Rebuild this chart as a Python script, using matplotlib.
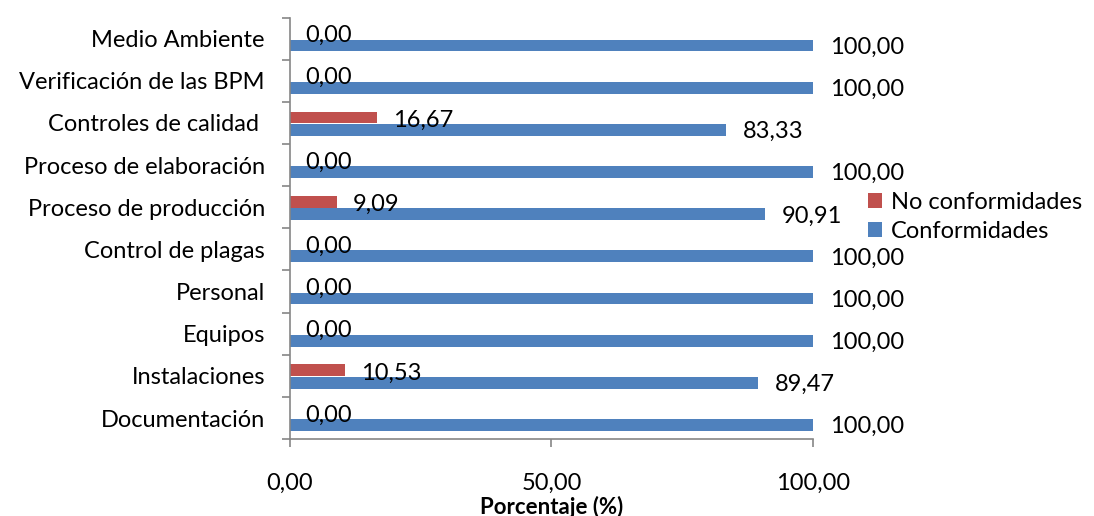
import numpy as np
import matplotlib.pyplot as plt
import matplotlib.ticker as mticker

plt.rcParams['font.family'] = ['Lato', 'DejaVu Sans']

# categories from bottom to top
categories = ['Documentación', 'Instalaciones', 'Equipos', 'Personal', 'Control de plagas',
              'Proceso de producción', 'Proceso de elaboración', 'Controles de calidad ',
              'Verificación de las BPM', 'Medio Ambiente']
no_conformidades = [0.00, 10.53, 0.00, 0.00, 0.00, 9.09, 0.00, 16.67, 0.00, 0.00]
conformidades = [100.00, 89.47, 100.00, 100.00, 100.00, 90.91, 100.00, 83.33, 100.00, 100.00]

red = '#C0504D'
blue = '#4F81BD'
grey = '#868686'


def fmt(v):
    return f"{v:.2f}".replace('.', ',')


fig = plt.figure(figsize=(10.94, 5.16), dpi=100)
ax = fig.add_axes([0.265, 0.149, 0.478, 0.817])

y = np.arange(len(categories))
h = 0.28
ax.barh(y - 0.165, conformidades, height=h, color=blue, label='Conformidades')
ax.barh(y + 0.13, no_conformidades, height=h, color=red, label='No conformidades')

# value labels
for yi, v in zip(y, conformidades):
    ax.text(v + 3.2, yi - 0.165 - 0.04, fmt(v), va='center', ha='left', fontsize=17)
for yi, v in zip(y, no_conformidades):
    ax.text(v + 3.0, yi + 0.13 - 0.06, fmt(v), va='center', ha='left', fontsize=17)

ax.set_xlim(0, 100)
ax.set_ylim(-0.5, len(categories) - 0.5)
ax.set_xticks([0, 50, 100])
ax.xaxis.set_major_formatter(mticker.FuncFormatter(lambda v, p: fmt(v)))
ax.set_yticks(y)
ax.set_yticklabels(categories, fontsize=17)
# Excel style: ticks between categories
ax.set_yticks(np.arange(-0.5, len(categories), 1), minor=True)
ax.tick_params(axis='y', which='major', length=0, pad=18)
ax.tick_params(axis='y', which='minor', length=6, color=grey, width=1.2)
ax.tick_params(axis='x', length=6, color=grey, width=1.2, pad=18, labelsize=17)
ax.set_xlabel('Porcentaje (%)', fontsize=16, fontweight='bold', va='center')
ax.xaxis.set_label_coords(0.5, -0.16)

for s in ['top', 'right']:
    ax.spines[s].set_visible(False)
for s in ['left', 'bottom']:
    ax.spines[s].set_color(grey)
    ax.spines[s].set_linewidth(1.2)

handles, labels = ax.get_legend_handles_labels()
ax.legend(handles[::-1], labels[::-1], loc='center left', bbox_to_anchor=(1.105, 0.527),
          frameon=False, fontsize=17, handlelength=0.6, handleheight=0.6,
          handletextpad=0.4, labelspacing=0.35, borderpad=0, borderaxespad=0)

fig.savefig('out.png', dpi=100)
